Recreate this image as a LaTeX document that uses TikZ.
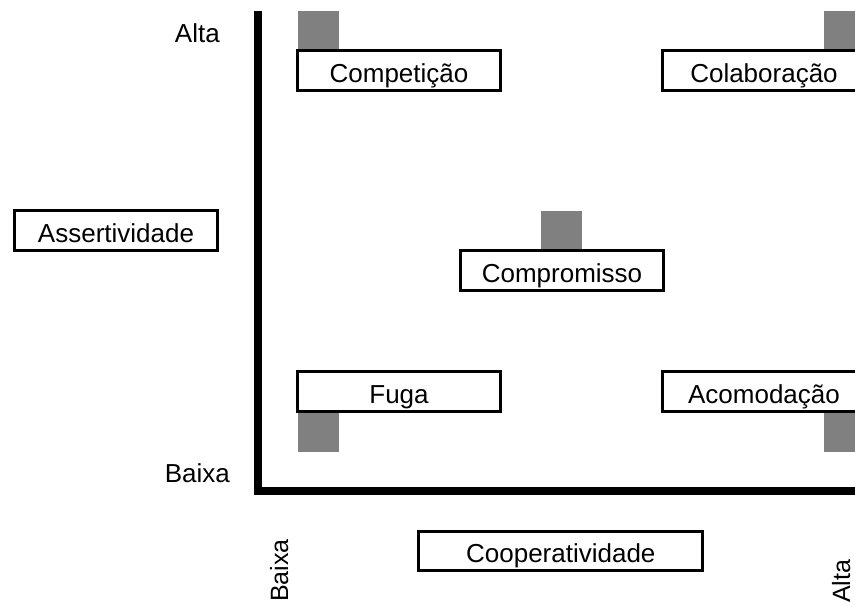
\documentclass[tikz,border=0pt]{standalone}
\usepackage{fontspec}
\setmainfont{Liberation Sans}
\begin{document}
\begin{tikzpicture}[x=1pt,y=1pt,
  lbl/.style={inner sep=0pt,font=\fontsize{26}{30}\selectfont},
  rlbl/.style={inner sep=0pt,rotate=90,anchor=base west,font=\fontsize{25}{30}\selectfont},
  sbox/.style={draw=black,line width=3pt,fill=white,rectangle,inner sep=0pt,
    text height=23.5pt,text depth=0pt,
    minimum width=203pt,minimum height=40pt,font=\fontsize{26}{30}\selectfont},
  graysq/.style={fill={rgb,255:red,128;green,128;blue,128},draw=none,rectangle,inner sep=0pt,
    minimum width=41pt,minimum height=38.5pt,anchor=south west},
  axis/.style={line width=8pt,line join=miter}]
\useasboundingbox (0,0) rectangle (855,604);
\begin{scope}
\clip (0,0) rectangle (855,604);
% axes
\coordinate (top) at (258,593);
\coordinate (corner) at (258,113);
\coordinate (right) at (870,113);
\draw[axis] (top) -- (corner) -- (right);
% gray squares
\node[graysq] (sq1) at (298,554.5) {};
\node[graysq] (sq2) at (824,554.5) {};
\node[graysq] (sq3) at (541,354) {};
\node[graysq,anchor=north west] (sq4) at (298,191) {};
\node[graysq,anchor=north west] (sq5) at (824,191) {};
% boxes
\node[sbox] (comp) at (399,533.5) {Competição};
\node[sbox] (colab) at (764,533.5) {Colaboração};
\node[sbox] (compr) at (562,333) {Compromisso};
\node[sbox] (fuga) at (399,212.5) {Fuga};
\node[sbox] (acom) at (764,212.5) {Acomodação};
\node[sbox] (assert) at (116,373.3) {Assertividade};
\node[sbox,minimum width=284pt,minimum height=39pt] (coop) at (560.8,53) {Cooperatividade};
% axis labels
\node[lbl,anchor=base east] (alta1) at (220,561) {Alta};
\node[lbl,anchor=base east] (baixa1) at (230,121) {Baixa};
\node[rlbl] (baixa2) at (288,2) {Baixa};
\node[rlbl] (alta2) at (850,1) {Alta};
\end{scope}
\end{tikzpicture}
\end{document}
